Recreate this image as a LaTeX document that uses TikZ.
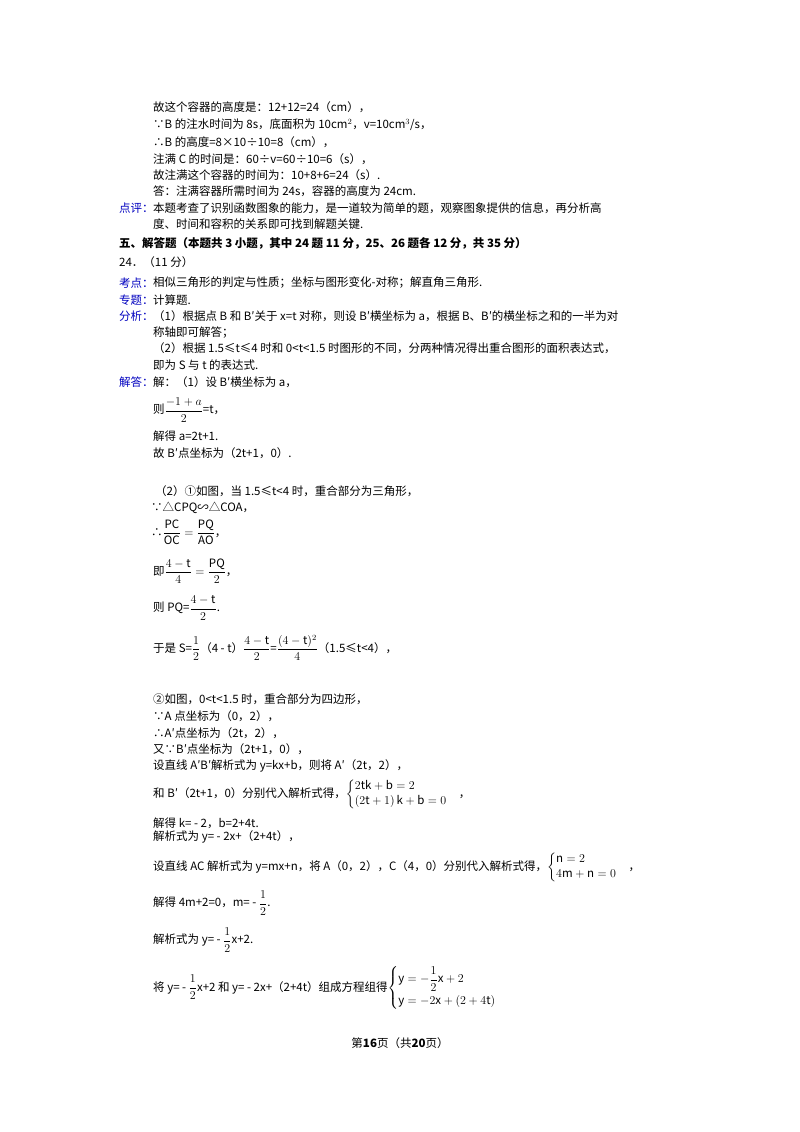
\documentclass[tikz,border=0pt]{standalone}
\usepackage{amsmath}
\usepackage{fontspec}
\setmainfont{Noto Sans CJK SC}
\begin{document}
\begin{tikzpicture}[x=1pt,y=-1pt,
 t/.style={anchor=west,inner sep=0pt,font=\fontsize{11.5}{13}\selectfont},
 lab/.style={t,text=blue!75!black}]
\useasboundingbox (0,0) rectangle (800,1132);
\node[t] (l1) at (153,107) {故这个容器的高度是：12+12=24（cm），};
\node[t] (l2) at (153,125) {∵B 的注水时间为 8s，底面积为 10cm$^2$，v=10cm$^3$/s，};
\node[t] (l3) at (153,142) {∴B 的高度=8×10÷10=8（cm），};
\node[t] (l4) at (153,159) {注满 C 的时间是：60÷v=60÷10=6（s），};
\node[t] (l5) at (153,175) {故注满这个容器的时间为：10+8+6=24（s）.};
\node[t] (l6) at (153,191) {答：注满容器所需时间为 24s，容器的高度为 24cm.};
\node[lab] (d1) at (119,208) {点评：};
\node[t] (l7) at (153,208) {本题考查了识别函数图象的能力，是一道较为简单的题，观察图象提供的信息，再分析高};
\node[t] (l8) at (153,224) {度、时间和容积的关系即可找到解题关键.};
\node[t,font=\fontsize{11.5}{13}\selectfont\bfseries] (h5) at (119,243) {五、解答题（本题共 3 小题，其中 24 题 11 分，25、26 题各 12 分，共 35 分）};
\node[t] (q24) at (119,262) {24．（11 分）};
\node[lab] (kd) at (119,283) {考点：};
\node[t] (l9) at (153,283) {相似三角形的判定与性质；坐标与图形变化-对称；解直角三角形.};
\node[lab] (zt) at (119,300) {专题：};
\node[t] (l10) at (153,300) {计算题.};
\node[lab] (fx) at (119,316) {分析：};
\node[t] (l11) at (153,316) {（1）根据点 B 和 B′关于 x=t 对称，则设 B′横坐标为 a，根据 B、B′的横坐标之和的一半为对};
\node[t] (l12) at (153,333) {称轴即可解答；};
\node[t] (l13) at (153,348) {（2）根据 1.5≤t≤4 时和 0<t<1.5 时图形的不同，分两种情况得出重合图形的面积表达式，};
\node[t] (l14) at (153,365) {即为 S 与 t 的表达式.};
\node[lab] (jd) at (119,382) {解答：};
\node[t] (l15) at (153,382) {解：（1）设 B′横坐标为 a，};
\node[t] (l16) at (153,410) {则$\dfrac{-1+a}{2}$=t，};
\node[t] (l17) at (153,436) {解得 a=2t+1.};
\node[t] (l18) at (153,453) {故 B′点坐标为（2t+1，0）.};
\node[t] (l19) at (155,491) {（2）①如图，当 1.5≤t<4 时，重合部分为三角形，};
\node[t] (l20) at (151,508) {∵△CPQ∽△COA，};
\node[t] (l21) at (151,532) {∴$\dfrac{\mathrm{PC}}{\mathrm{OC}}=\dfrac{\mathrm{PQ}}{\mathrm{AO}}$，};
\node[t] (l22) at (153,571) {即$\dfrac{4-\mathrm{t}}{4}=\dfrac{\mathrm{PQ}}{2}$，};
\node[t] (l23) at (153,608) {则 PQ=$\dfrac{4-\mathrm{t}}{2}$.};
\node[t] (l24) at (153,648) {于是 S=$\dfrac{1}{2}$（4 - t）$\dfrac{4-\mathrm{t}}{2}$=$\dfrac{(4-\mathrm{t})^2}{4}$（1.5≤t<4），};
\node[t] (l25) at (153,699) {②如图，0<t<1.5 时，重合部分为四边形，};
\node[t] (l26) at (153,716) {∵A 点坐标为（0，2），};
\node[t] (l27) at (153,733) {∴A′点坐标为（2t，2），};
\node[t] (l28) at (153,749) {又∵B′点坐标为（2t+1，0），};
\node[t] (l29) at (153,766) {设直线 A′B′解析式为 y=kx+b，则将 A′（2t，2），};
\node[t] (l30) at (153,794) {和 B′（2t+1，0）分别代入解析式得，$\begin{cases}2\mathrm{tk}+\mathrm{b}=2\\(2\mathrm{t}+1)\,\mathrm{k}+\mathrm{b}=0\end{cases}$，};
\node[t] (l31) at (153,823) {解得 k= - 2，b=2+4t.};
\node[t] (l32) at (153,837) {解析式为 y= - 2x+（2+4t），};
\node[t] (l33) at (153,867) {设直线 AC 解析式为 y=mx+n，将 A（0，2），C（4，0）分别代入解析式得，$\begin{cases}\mathrm{n}=2\\4\mathrm{m}+\mathrm{n}=0\end{cases}$，};
\node[t] (l34) at (153,903) {解得 4m+2=0，m= - $\dfrac{1}{2}$.};
\node[t] (l35) at (153,940) {解析式为 y= - $\dfrac{1}{2}$x+2.};
\node[t] (l36) at (153,988) {将 y= - $\dfrac{1}{2}$x+2 和 y= - 2x+（2+4t）组成方程组得$\begin{cases}\mathrm{y}=-\dfrac{1}{2}\mathrm{x}+2\\[6pt]\mathrm{y}=-2\mathrm{x}+(2+4\mathrm{t})\end{cases}$};
\node[anchor=center,inner sep=0pt,font=\fontsize{11.5}{13}\selectfont] (ft) at (400,1043) {第\textbf{16}页（共\textbf{20}页）};
\end{tikzpicture}
\end{document}
